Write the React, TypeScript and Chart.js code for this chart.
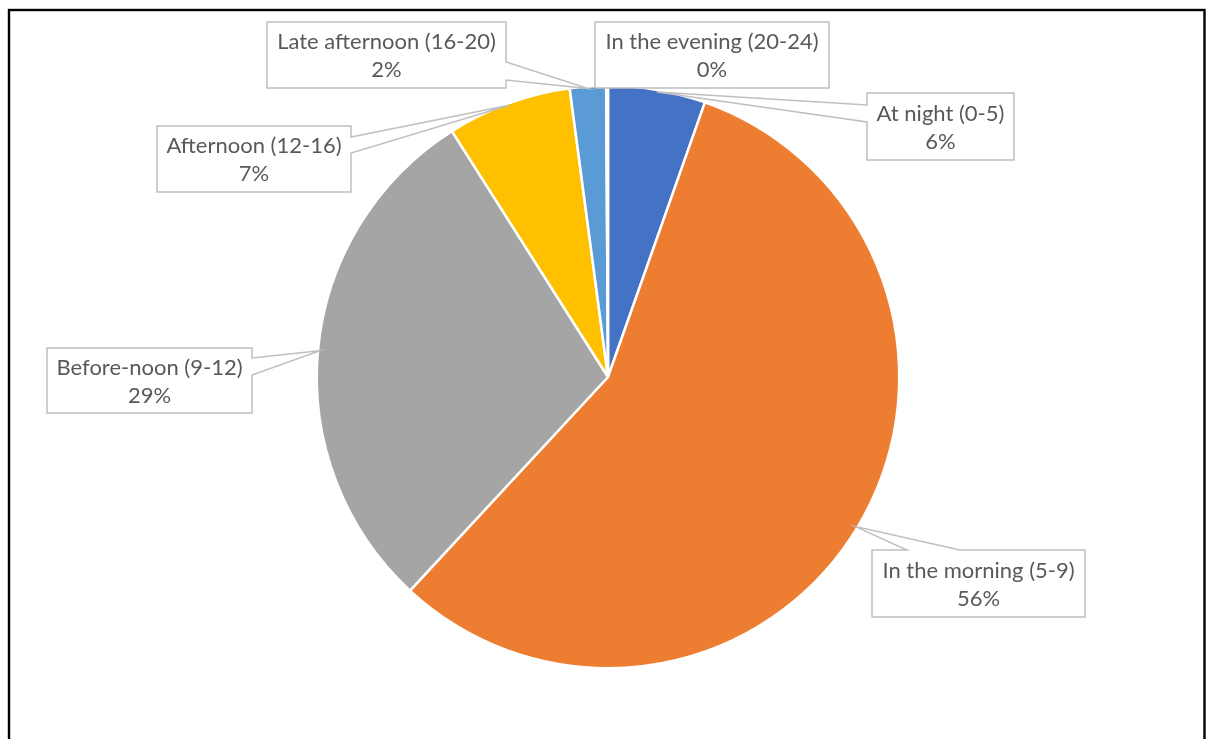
import React, { useEffect, useRef } from "react";
import { Chart, registerables } from "chart.js";

Chart.register(...registerables);

const categories = [
  "At night (0-5)",
  "In the morning (5-9)",
  "Before-noon (9-12)",
  "Afternoon (12-16)",
  "Late afternoon (16-20)",
  "In the evening (20-24)",
];
const shares = [5.4, 56.5, 29.1, 6.9, 2.0, 0.1];
const percentLabels = ["6%", "56%", "29%", "7%", "2%", "0%"];
const sliceColors = ["#4472C4", "#ED7D31", "#A5A5A5", "#FFC000", "#5B9BD5", "#70AD47"];

const W = 1207;
const H = 739;
const FONT = "22px Lato";
const TEXT_COLOR = "#595959";
const BOX_COLOR = "#BFBFBF";

type Box = { x: number; y: number; w: number; h: number; side: "left" | "right" | "top" | "bottom"; a: number; b: number };
const labelBoxes: Box[] = [
  { x: 867, y: 93, w: 147, h: 67, side: "left", a: 105, b: 122 },
  { x: 872, y: 550, w: 213, h: 67, side: "top", a: 907, b: 960 },
  { x: 47, y: 348, w: 205, h: 65, side: "right", a: 358, b: 375 },
  { x: 157, y: 126, w: 194, h: 66, side: "right", a: 137, b: 153 },
  { x: 267, y: 22, w: 239, h: 66, side: "right", a: 62, b: 80 },
  { x: 595, y: 22, w: 234, h: 66, side: "bottom", a: 0, b: 0 },
];

const calloutPlugin = {
  id: "callouts",
  afterDraw(chart: any) {
    const ctx: CanvasRenderingContext2D = chart.ctx;
    const meta = chart.getDatasetMeta(0);
    ctx.save();
    // frame
    ctx.strokeStyle = "#000";
    ctx.lineWidth = 2.4;
    ctx.strokeRect(9, 10, 1195.5, 760);

    meta.data.forEach((el: any, i: number) => {
      const b = labelBoxes[i];
      const mid = (el.startAngle + el.endAngle) / 2;
      const r = el.outerRadius - 2;
      const tx = el.x + Math.cos(mid) * r;
      const ty = el.y + Math.sin(mid) * r;
      const inside = tx >= b.x && tx <= b.x + b.w && ty >= b.y - 2 && ty <= b.y + b.h + 2;
      const x0 = b.x, y0 = b.y, x1 = b.x + b.w, y1 = b.y + b.h;
      ctx.beginPath();
      ctx.moveTo(x0, y0);
      if (b.side === "top" && !inside) {
        ctx.lineTo(b.a, y0);
        ctx.lineTo(tx, ty);
        ctx.lineTo(b.b, y0);
      }
      ctx.lineTo(x1, y0);
      if (b.side === "right" && !inside) {
        ctx.lineTo(x1, b.a);
        ctx.lineTo(tx, ty);
        ctx.lineTo(x1, b.b);
      }
      ctx.lineTo(x1, y1);
      if (b.side === "bottom" && !inside) {
        ctx.lineTo(b.b, y1);
        ctx.lineTo(tx, ty);
        ctx.lineTo(b.a, y1);
      }
      ctx.lineTo(x0, y1);
      if (b.side === "left" && !inside) {
        ctx.lineTo(x0, b.b);
        ctx.lineTo(tx, ty);
        ctx.lineTo(x0, b.a);
      }
      ctx.closePath();
      ctx.fillStyle = "#FFFFFF";
      ctx.fill();
      ctx.strokeStyle = BOX_COLOR;
      ctx.lineWidth = 1.5;
      ctx.lineJoin = "miter";
      ctx.stroke();

      ctx.fillStyle = TEXT_COLOR;
      ctx.font = FONT;
      ctx.textAlign = "center";
      ctx.textBaseline = "middle";
      const cx = b.x + b.w / 2;
      const cy = b.y + b.h / 2;
      ctx.fillText(categories[i], cx, cy - 13);
      ctx.fillText(percentLabels[i], cx, cy + 15);
    });
    ctx.restore();
  },
};

export default function App() {
  const ref = useRef<HTMLCanvasElement | null>(null);
  useEffect(() => {
    if (!ref.current) return;
    const chart = new Chart(ref.current, {
      type: "pie",
      data: {
        labels: categories,
        datasets: [
          {
            data: shares,
            backgroundColor: sliceColors,
            borderColor: "#FFFFFF",
            borderWidth: 2.5,
          },
        ],
      },
      options: {
        animation: false,
        responsive: false,
        maintainAspectRatio: false,
        events: [],
        layout: { padding: { left: 315.5, top: 84.5, right: 306.5, bottom: 69.5 } },
        plugins: { legend: { display: false }, tooltip: { enabled: false } },
      },
      plugins: [calloutPlugin],
    });
    return () => chart.destroy();
  }, []);
  return (
    <div style={{ position: "absolute", left: 0, top: 0, width: W, height: H, background: "#fff" }}>
      <canvas ref={ref} width={W} height={H} style={{ width: W, height: H, display: "block" }} />
    </div>
  );
}
